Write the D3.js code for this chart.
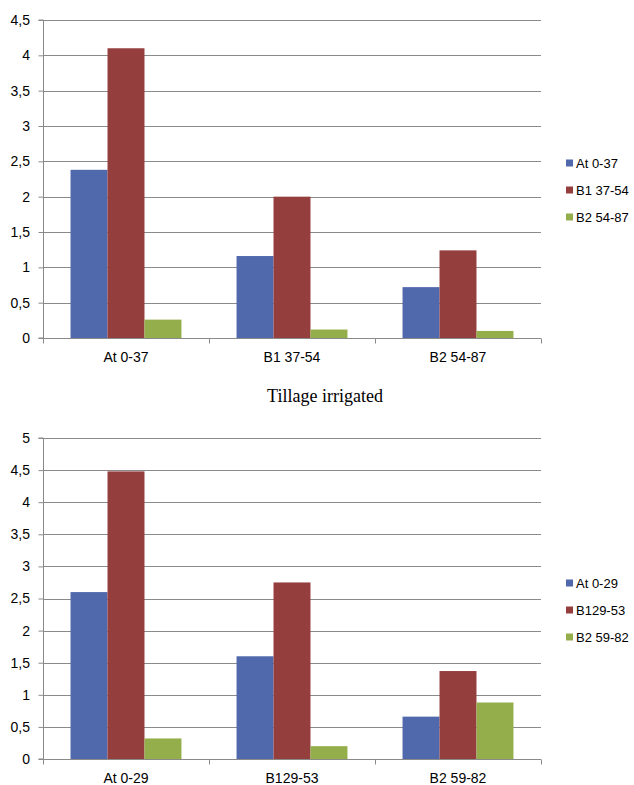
<!DOCTYPE html>
<html>
<head>
<meta charset="utf-8">
<script src="https://cdn.jsdelivr.net/npm/d3@7"></script>
<style>
  html, body { margin: 0; padding: 0; background: #fff; }
  svg { display: block; }
  text { font-family: "Liberation Sans", Arial, sans-serif; fill: #000; }
</style>
</head>
<body>
<svg id="chart" width="634" height="785"></svg>
<script>
// ---- Data ----
const seriesColors = ["#5068AC", "#943E3D", "#93AE4A"];

const topCategories = ["At 0-37", "B1 37-54", "B2 54-87"];
const topSeriesNames = ["At 0-37", "B1 37-54", "B2 54-87"];
const topBlue = [2.38, 1.16, 0.72];
const topRed = [4.1, 2.0, 1.24];
const topGreen = [0.26, 0.12, 0.10];
const topTicks = [0, 0.5, 1, 1.5, 2, 2.5, 3, 3.5, 4, 4.5];

const bottomTitle = "Tillage irrigated";
const bottomCategories = ["At 0-29", "B129-53", "B2 59-82"];
const bottomSeriesNames = ["At 0-29", "B129-53", "B2 59-82"];
const bottomBlue = [2.6, 1.6, 0.66];
const bottomRed = [4.48, 2.75, 1.37];
const bottomGreen = [0.32, 0.2, 0.88];
const bottomTicks = [0, 0.5, 1, 1.5, 2, 2.5, 3, 3.5, 4, 4.5, 5];

const svg = d3.select("#chart");
const fmt = v => String(v).replace(".", ",");

function drawChart(opts) {
  const { categories, seriesNames, values, ticks, top, bottom, legendY } = opts;
  const left = 43, right = 541;
  const g = svg.append("g");

  const y = d3.scaleLinear().domain([0, d3.max(ticks)]).range([bottom, top]);
  const x0 = d3.scaleBand().domain(categories).range([left, right]).paddingInner(0).paddingOuter(0);
  const x1 = d3.scaleBand().domain(seriesNames).range([0, x0.bandwidth()]).paddingInner(0).paddingOuter(0.745);

  // gridlines
  g.append("g").selectAll("line").data(ticks.filter(t => t > 0)).join("line")
    .attr("x1", left).attr("x2", right)
    .attr("y1", d => Math.round(y(d)) + 0.5).attr("y2", d => Math.round(y(d)) + 0.5)
    .attr("stroke", "#8a8a8a").attr("stroke-width", 1);

  // bars
  const rows = categories.map((c, i) => ({ c, vals: seriesNames.map((s, j) => ({ s, j, v: values[j][i] })) }));
  g.append("g").selectAll("g").data(rows).join("g")
    .attr("transform", d => `translate(${x0(d.c)},0)`)
    .selectAll("rect").data(d => d.vals).join("rect")
    .attr("x", d => x1(d.s)).attr("width", x1.bandwidth())
    .attr("y", d => y(d.v)).attr("height", d => y(0) - y(d.v))
    .attr("fill", d => seriesColors[d.j]);

  // y axis
  const yAxis = d3.axisLeft(y).tickValues(ticks).tickSize(5).tickPadding(6).tickFormat(fmt);
  const ya = g.append("g").attr("transform", `translate(${left + 0.5},0)`).call(yAxis);
  ya.select(".domain").attr("stroke", "#8a8a8a").attr("d", `M-5,${Math.round(top)}H0V${bottom}H-5`);
  ya.selectAll(".tick line").attr("stroke", "#8a8a8a");
  ya.selectAll(".tick text")
    .attr("font-size", 14)
    .attr("font-family", "Liberation Sans, Arial, sans-serif")
    .attr("x", -13.5);

  // x axis
  const xa = g.append("g").attr("transform", `translate(0,${bottom + 0.5})`);
  xa.append("line").attr("x1", left).attr("x2", right).attr("stroke", "#8a8a8a");
  const bounds = categories.map(c => x0(c)).concat([right]);
  xa.selectAll("line.tk").data(bounds).join("line").attr("class", "tk")
    .attr("x1", d => Math.round(d) + 0.5).attr("x2", d => Math.round(d) + 0.5)
    .attr("y1", 0).attr("y2", 5).attr("stroke", "#8a8a8a");
  xa.selectAll("text").data(categories).join("text")
    .attr("x", d => x0(d) + x0.bandwidth() / 2).attr("y", 19)
    .attr("dy", "0.35em")
    .attr("text-anchor", "middle").attr("font-size", 14).text(d => d);

  // legend
  const lg = g.append("g");
  seriesNames.forEach((s, j) => {
    const ly = legendY + j * 27;
    lg.append("rect").attr("x", 566).attr("y", ly - 3.5).attr("width", 7).attr("height", 7).attr("fill", seriesColors[j]);
    lg.append("text").attr("x", 576).attr("y", ly).attr("dy", "0.35em").attr("font-size", 13).text(s);
  });
}

drawChart({
  categories: topCategories, seriesNames: topSeriesNames,
  values: [topBlue, topRed, topGreen], ticks: topTicks,
  top: 20, bottom: 338, legendY: 163
});

svg.append("text").attr("x", 325).attr("y", 402).attr("text-anchor", "middle")
  .attr("font-size", 18)
  .style("font-family", "'Liberation Serif', 'Times New Roman', serif")
  .text(bottomTitle);

drawChart({
  categories: bottomCategories, seriesNames: bottomSeriesNames,
  values: [bottomBlue, bottomRed, bottomGreen], ticks: bottomTicks,
  top: 438, bottom: 759, legendY: 583
});
</script>
</body>
</html>
